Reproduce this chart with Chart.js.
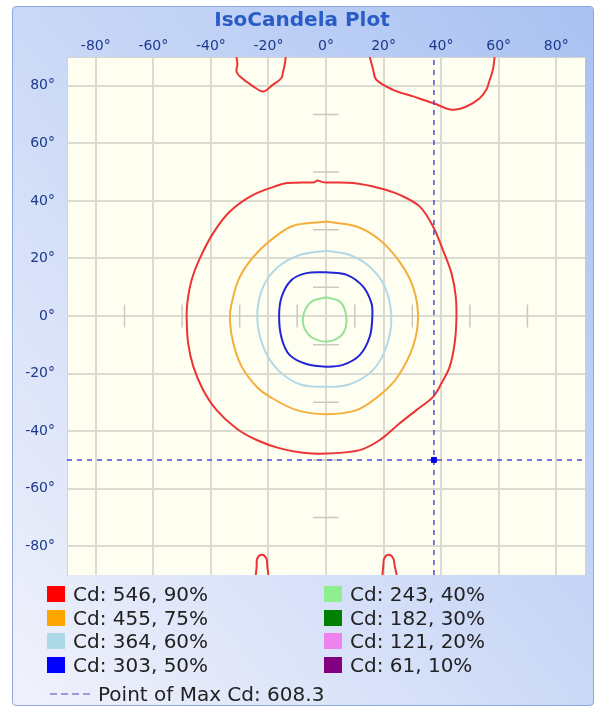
<!DOCTYPE html>
<html>
<head>
<meta charset="utf-8">
<script src="https://cdn.jsdelivr.net/npm/chart.js@4.4.1/dist/chart.umd.min.js"></script>
<style>
  body { margin: 0; background: #fff; }
  #wrap { position: relative; width: 596px; height: 713px; font-family: 'DejaVu Sans', sans-serif; }
  #frame {
    position: absolute; left: 12px; top: 6px; width: 580px; height: 698px;
    border: 1px solid #8ea8e6; border-radius: 4px;
    background: linear-gradient(to top right, #f1f2fb 0%, #cbd9f7 50%, #a9c1f1 100%);
  }
  #chart { position: absolute; left: 0; top: 0; }
  .item { position: absolute; display: flex; align-items: center; height: 22px; font-size: 20px; color: #222; white-space: nowrap; }
  .box { width: 18px; height: 16px; margin-right: 8px; }
  .dash { width: 40px; height: 2px; margin-right: 8px; background: repeating-linear-gradient(to right, #9a9ae0 0 7px, transparent 7px 11px); }
</style>
</head>
<body>
<div id="wrap">
  <div id="frame"></div>
  <canvas id="chart" width="596" height="713"></canvas>
  <div id="legend"></div>
</div>
<script>
// axes
var xTicks = [-80, -60, -40, -20, 0, 20, 40, 60, 80];
var yTicks = [80, 60, 40, 20, 0, -20, -40, -60, -80];
var minorMarks = [-70, -50, -30, -10, 10, 30, 50, 70];

// iso levels
var cdValues = [546, 455, 364, 303, 243, 182, 121, 61];
var cdPercents = [90, 75, 60, 50, 40, 30, 20, 10];
var legendColors = ['#ff0000', '#ffa500', '#add8e6', '#0000ff', '#90ee90', '#008000', '#ee82ee', '#800080'];
var lineColors = ['#ec3434', '#f4ae3c', '#b3d9e6', '#2323d8', '#98e098', '#008000', '#ee82ee', '#800080'];

// point of max candela
var maxCd = 608.3;
var maxPoint = [37.5, -50];

// contour traces, [x deg, y deg]
var cd546Main = [[-13.7,46.2],[-8,46.4],[-4,46.5],[-3,47.1],[-1.5,46.6],[0,46.4],[9.4,46.2],[18.7,44.4],[25.6,42.1],[32.6,38.0],[37.2,31.1],[40.6,23.0],[43.6,14.9],[45.1,6.7],[45.3,-1.4],[44.7,-9.5],[43.0,-17.6],[40.1,-23.4],[37.2,-28.1],[31.4,-32.7],[25.6,-37.3],[18.7,-43.1],[11.7,-46.6],[0.2,-47.8],[-8,-47.5],[-16.0,-46.0],[-24.1,-43.1],[-31.1,-39.1],[-38.0,-32.7],[-42.7,-25.7],[-46.1,-17.6],[-47.9,-9.5],[-48.4,-1.4],[-48.2,4.4],[-46.7,12.5],[-43.8,20.1],[-39.2,28.8],[-33.4,36.3],[-25.3,42.1],[-16.0,45.6],[-13.7,46.2]];
var cd546TopLeft = [[-31.1,90],[-30.8,87.5],[-31.1,85.0],[-29.9,83.2],[-25.3,79.8],[-21.8,78.0],[-18.4,80.4],[-15.5,82.7],[-14.9,85.0],[-14.4,87],[-14.0,90]];
var cd546TopRight = [[15.2,90],[16.4,85.6],[17.5,82.1],[23.3,78.6],[30.3,76.3],[37.2,74.0],[43.6,71.7],[48.8,72.8],[53.4,75.7],[55.7,78.6],[56.9,82.1],[58.0,85.6],[58.6,90]];
var cd546BottomLeft = [[-24.4,-90],[-24.1,-87],[-23.9,-84.3],[-22.3,-83.0],[-20.7,-84.3],[-20.4,-87],[-20.0,-90]];
var cd546BottomRight = [[19.6,-90],[19.9,-87],[20.2,-84.3],[21.8,-83.0],[23.4,-84.3],[23.9,-87],[24.6,-90]];
var cd455 = [[0,32.8],[10.6,31.1],[18.7,26.4],[25.6,18.8],[30.2,10.2],[32.0,-0.2],[30.2,-10.7],[24.9,-21.1],[18.7,-27.5],[10.6,-32.7],[0,-34.1],[-10.2,-32.7],[-19.5,-28.1],[-24.1,-24.6],[-29.3,-17.6],[-32.2,-9.5],[-33.4,-1.4],[-32.8,4.4],[-29.9,13.7],[-24.1,21.8],[-16.0,28.8],[-10.2,31.7],[0,32.8]];
var cd364 = [[0,22.7],[8.3,21.2],[15.2,17.1],[20.4,10.2],[22.7,-0.2],[21.0,-10.7],[16.3,-18.8],[8.3,-23.7],[0,-24.6],[-9.1,-23.7],[-16.6,-18.8],[-21.8,-10.7],[-23.9,-0.2],[-21.8,10.2],[-16.6,17.1],[-9.1,21.2],[0,22.7]];
var cd303 = [[0,15.2],[7.2,14.3],[12.9,10.2],[15.8,4.4],[16.1,-0.2],[15.2,-7.2],[11.7,-13.6],[5.9,-17.0],[0,-17.6],[-6.8,-16.7],[-12.6,-13.6],[-15.4,-7.8],[-16.3,-0.2],[-15.4,6.7],[-12.0,12.5],[-6.8,14.9],[0,15.2]];
var cd243 = [[0,6.5],[4.8,5.0],[6.9,0.9],[6.9,-3.7],[4.8,-7.2],[0,-8.9],[-5.0,-7.4],[-7.7,-3.7],[-7.7,0.9],[-5.0,5.0],[0,6.5]];

var contours = [
  [cd546Main, cd546TopLeft, cd546TopRight, cd546BottomLeft, cd546BottomRight],
  [cd455], [cd364], [cd303], [cd243], [], [], []
];

function joinPieces(pieces) {
  var out = [];
  pieces.forEach(function (p, i) {
    if (i > 0) out.push({x: null, y: null});
    p.forEach(function (pt) { out.push({x: pt[0], y: pt[1]}); });
  });
  return out;
}

var levelLabels = cdValues.map(function (v, i) { return 'Cd: ' + v + ', ' + cdPercents[i] + '%'; });

var datasets = contours.map(function (pieces, i) {
  return {
    label: levelLabels[i],
    data: joinPieces(pieces),
    showLine: true,
    borderColor: lineColors[i],
    borderWidth: 2,
    pointRadius: 0,
    tension: 0.35,
    order: 2
  };
});

// small cross marks along the 0° axes
var marks = [];
minorMarks.forEach(function (v) {
  marks.push([[-4.5, v], [4.5, v]]);
  marks.push([[v, -4], [v, 4]]);
});
datasets.push({
  label: 'marks',
  data: joinPieces(marks),
  showLine: true,
  borderColor: '#c9c9c0',
  borderWidth: 1.5,
  pointRadius: 0,
  order: 5
});

// max candela crosshair
datasets.push({
  label: 'Point of Max Cd: ' + maxCd,
  data: joinPieces([[[maxPoint[0], -90], [maxPoint[0], 90]], [[-90, maxPoint[1]], [90, maxPoint[1]]]]),
  showLine: true,
  borderColor: '#4a4ae6',
  borderWidth: 1.5,
  borderDash: [5, 5],
  pointRadius: 0,
  order: 1
});
datasets.push({
  label: 'max',
  data: [{x: maxPoint[0], y: maxPoint[1]}],
  pointStyle: 'rect',
  pointRadius: 3.5,
  backgroundColor: '#0000e0',
  borderColor: '#0000e0',
  order: 0
});

var plotBg = {
  id: 'plotBg',
  beforeDraw: function (c) {
    var a = c.chartArea;
    c.ctx.save();
    c.ctx.fillStyle = '#fffff1';
    c.ctx.fillRect(a.left, a.top, a.width, a.height);
    c.ctx.restore();
  }
};

var tickFont = {family: 'DejaVu Sans', size: 14};
var gridOpts = {color: '#dcdbd2', lineWidth: 2, drawTicks: false};

var ctx = document.getElementById('chart').getContext('2d');
var chart = new Chart(ctx, {
  type: 'scatter',
  data: {datasets: datasets},
  plugins: [plotBg],
  options: {
    responsive: false,
    animation: false,
    layout: {padding: {left: 8, right: 0, top: 0, bottom: 138}},
    plugins: {
      legend: {display: false},
      tooltip: {enabled: false},
      title: {
        display: true,
        text: 'IsoCandela Plot',
        color: '#2a5cc8',
        font: {family: 'DejaVu Sans', size: 20, weight: 'bold'},
        padding: {top: 9, bottom: 0}
      }
    },
    scales: {
      x: {
        type: 'linear', position: 'top', min: -90, max: 90,
        afterBuildTicks: function (s) { s.ticks = xTicks.map(function (v) { return {value: v}; }); },
        afterFit: function (s) { s.height = 24; },
        grid: gridOpts,
        border: {color: '#d4d4cc'},
        ticks: {padding: 2, color: '#1c3a8c', font: tickFont, maxRotation: 0, autoSkip: false,
                callback: function (v) { return v + '°'; }}
      },
      y: {
        type: 'linear', position: 'left', min: -90, max: 90,
        afterBuildTicks: function (s) { s.ticks = yTicks.map(function (v) { return {value: v}; }); },
        afterFit: function (s) { s.width = 59; },
        grid: gridOpts,
        border: {color: '#d4d4cc'},
        ticks: {padding: 12, color: '#1c3a8c', font: tickFont, autoSkip: false,
                callback: function (v) { return v + '°'; }}
      },
      yr: {
        type: 'linear', position: 'right', min: -90, max: 90,
        afterFit: function (s) { s.width = 11; },
        grid: {display: false}, border: {display: false}, ticks: {display: false}
      }
    }
  }
});

// legend, two columns
var legend = document.getElementById('legend');
levelLabels.forEach(function (text, i) {
  var col = Math.floor(i / 4), row = i % 4;
  var el = document.createElement('div');
  el.className = 'item';
  el.style.left = (col === 0 ? 47 : 324) + 'px';
  el.style.top = (583 + row * 23.7) + 'px';
  el.innerHTML = '<span class="box" style="background:' + legendColors[i] + '"></span>';
  el.appendChild(document.createTextNode(text));
  legend.appendChild(el);
});
var maxItem = document.createElement('div');
maxItem.className = 'item';
maxItem.style.left = '50px';
maxItem.style.top = '683px';
maxItem.innerHTML = '<span class="dash"></span>';
maxItem.appendChild(document.createTextNode('Point of Max Cd: ' + maxCd));
legend.appendChild(maxItem);
</script>
</body>
</html>
